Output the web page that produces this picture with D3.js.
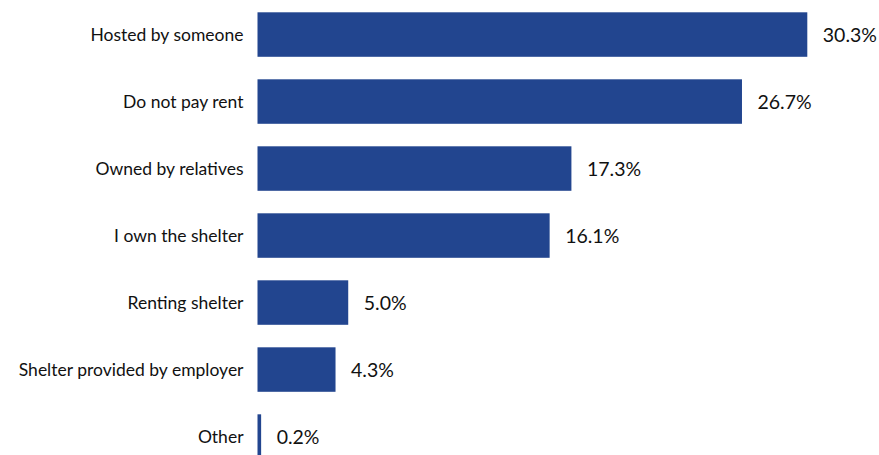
<!DOCTYPE html>
<html>
<head>
<meta charset="utf-8">
<script src="https://cdn.jsdelivr.net/npm/d3@7"></script>
<style>
html,body{margin:0;padding:0;background:#fff;}
svg{display:block;}
</style>
</head>
<body>
<svg id="chart" width="879" height="455"></svg>
<script>
const categories = ["Hosted by someone","Do not pay rent","Owned by relatives","I own the shelter","Renting shelter","Shelter provided by employer","Other"];
const values = [30.3, 26.7, 17.3, 16.1, 5.0, 4.3, 0.2];
const valueLabels = ["30.3%","26.7%","17.3%","16.1%","5.0%","4.3%","0.2%"];

const svg = d3.select("#chart");
const x = d3.scaleLinear().domain([0, 30.3]).range([257.5, 807.3]);
const y = d3.scaleBand().domain(categories).range([12.3, 458.8]).paddingInner(0.336).paddingOuter(0);
const font = "Lato, 'Open Sans', sans-serif";
const color = "#22458f";

const data = categories.map((c,i)=>({c, v: values[i], l: valueLabels[i]}));

svg.selectAll("rect.bar").data(data).join("rect")
  .attr("class","bar")
  .attr("x", x(0))
  .attr("y", d=>y(d.c))
  .attr("width", d=>x(d.v)-x(0))
  .attr("height", y.bandwidth())
  .attr("fill", color);

svg.selectAll("text.cat").data(data).join("text")
  .attr("class","cat")
  .attr("x", 243.5)
  .attr("y", d=>y(d.c)+y.bandwidth()/2 + 0.5)
  .attr("dy","0.35em")
  .attr("text-anchor","end")
  .attr("font-family", font)
  .attr("font-size", 17.5)
  .attr("fill","#111")
  .text(d=>d.c);

svg.selectAll("text.val").data(data).join("text")
  .attr("class","val")
  .attr("x", d=>x(d.v)+15.5)
  .attr("y", d=>y(d.c)+y.bandwidth()/2 + 1)
  .attr("dy","0.35em")
  .attr("font-family", font)
  .attr("font-size", 19.5)
  .attr("fill","#111")
  .text(d=>d.l);
</script>
</body>
</html>
